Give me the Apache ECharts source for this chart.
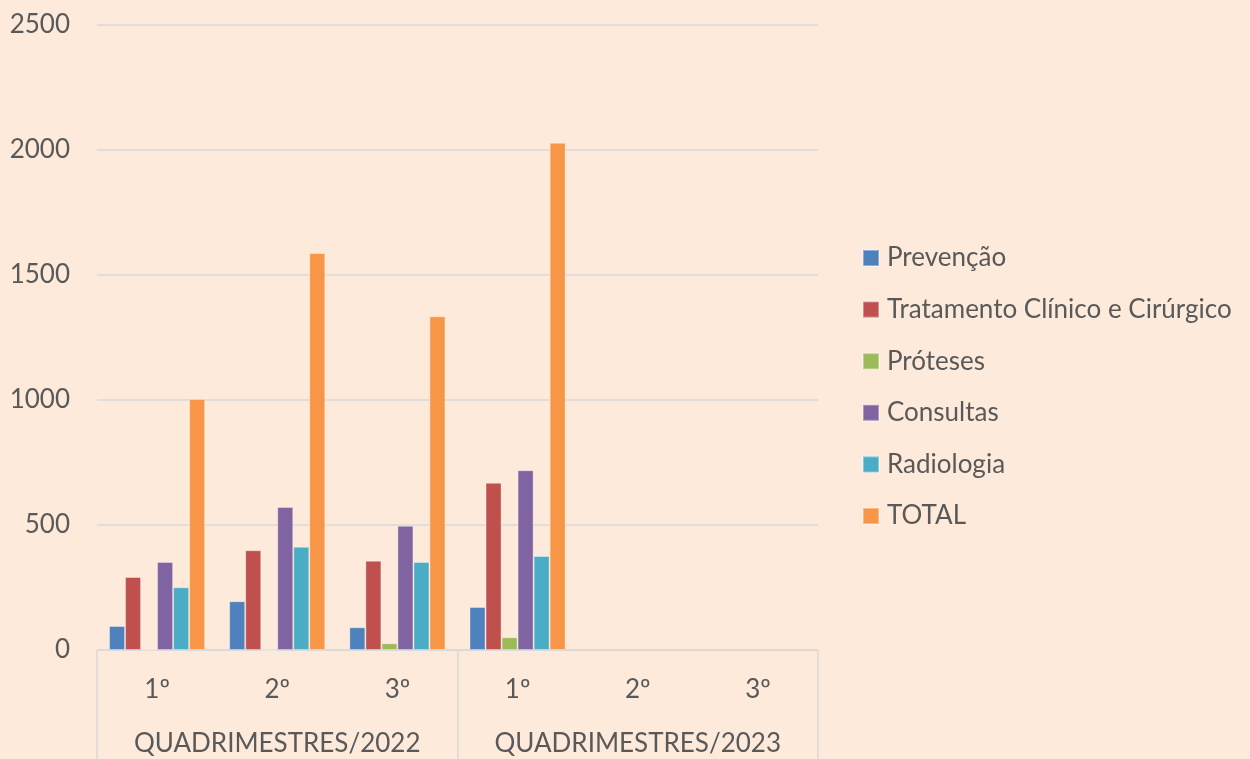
<!DOCTYPE html>
<html>
<head>
<meta charset="utf-8">
<script src="https://cdn.jsdelivr.net/npm/echarts@6/dist/echarts.min.js"></script>
<style>
html,body{margin:0;padding:0;background:#FDEADB;}
#chart{width:1250px;height:759px;}
</style>
</head>
<body>
<div id="chart"></div>
<script>
const categories = ['1º','2º','3º','1º','2º','3º'];
const groups = ['QUADRIMESTRES/2022','QUADRIMESTRES/2023'];
const seriesNames = ['Prevenção','Tratamento Clínico e Cirúrgico','Próteses','Consultas','Radiologia','TOTAL'];
const prevencao   = [96, 195, 91, 172, null, null];
const tratamento  = [292, 399, 357, 669, null, null];
const proteses    = [2, 0, 27, 51, null, null];
const consultas   = [352, 572, 497, 719, null, null];
const radiologia  = [251, 413, 352, 376, null, null];
const total       = [1004, 1588, 1335, 2029, null, null];
const yTicks = [0, 500, 1000, 1500, 2000, 2500];

const colors = ['#4F81BD','#C0504D','#9BBB59','#8064A2','#4BACC6','#F79646'];
const seriesData = [prevencao, tratamento, proteses, consultas, radiologia, total];
const FONT = 'Lato';
const FS = 26;

const chart = echarts.init(document.getElementById('chart'), null, {renderer:'canvas'});
chart.setOption({
  backgroundColor: '#FDEADB',
  color: colors,
  animation: false,
  textStyle: {fontFamily: FONT},
  grid: {left: 97, right: 432, top: 25, bottom: 109, containLabel: false},
  legend: {
    orient: 'vertical',
    left: 862,
    top: 244,
    padding: 0,
    itemWidth: 16,
    itemHeight: 16,
    itemGap: 23.6,
    icon: 'rect',
    textStyle: {fontFamily: FONT, fontSize: FS, color: '#595959', lineHeight: 28, padding: [0,0,0,3]},
    data: seriesNames
  },
  xAxis: [
    {
      type: 'category',
      data: categories,
      position: 'bottom',
      axisLine: {show: true, lineStyle: {color: '#D9D9D9', width: 1.5}},
      axisTick: {show: false},
      axisLabel: {fontFamily: FONT, fontSize: FS, color: '#595959', margin: 27, interval: 0},
      splitLine: {show: false}
    },
    {
      type: 'category',
      data: groups,
      position: 'bottom',
      axisLine: {show: false},
      axisTick: {show: true, length: 110, interval: 0, lineStyle: {color: '#D9D9D9', width: 1.5}},
      axisLabel: {fontFamily: FONT, fontSize: FS, color: '#595959', margin: 81, interval: 0, hideOverlap: false},
      splitLine: {show: false}
    }
  ],
  yAxis: {
    type: 'value',
    min: yTicks[0],
    max: yTicks[yTicks.length-1],
    interval: 500,
    axisLine: {show: false},
    axisTick: {show: false},
    axisLabel: {fontFamily: FONT, fontSize: FS, color: '#595959', margin: 27, formatter: v => String(v)},
    splitLine: {lineStyle: {color: '#D9D9D9', width: 1.5}}
  },
  series: seriesNames.map((name, i) => ({
    name: name,
    type: 'bar',
    xAxisIndex: 0,
    data: seriesData[i],
    barGap: '0%',
    barCategoryGap: '20%',
    itemStyle: {color: colors[i], borderColor: 'rgba(255,255,255,0.35)', borderWidth: 1}
  }))
});
</script>
</body>
</html>
